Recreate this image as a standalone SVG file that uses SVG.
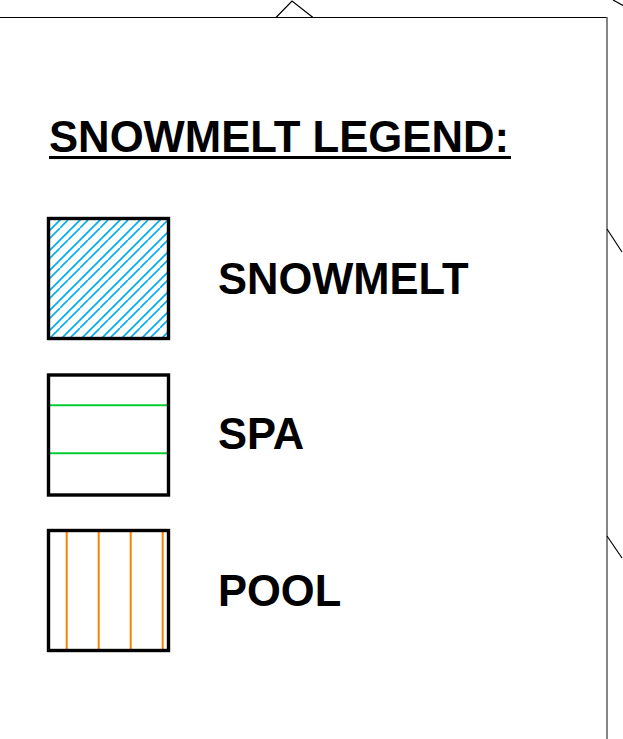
<svg xmlns="http://www.w3.org/2000/svg" width="623" height="739" viewBox="0 0 623 739">
<style>
.t{font-family:"Liberation Sans",Arial,sans-serif;font-weight:bold;fill:#000}
.box{fill:none;stroke:#000;stroke-width:3.4}
.thin{stroke:#000;stroke-width:1.2;fill:none}
.g{stroke:#00cc33;stroke-width:2}
.o{stroke:#ff7f00;stroke-width:2}
</style>
<defs>
<pattern id="hatch" patternUnits="userSpaceOnUse" x="0" y="0" width="20" height="20">
<g stroke="#00aeef" stroke-width="1.7" fill="none">
<path d="M0,20 L20,0 M-2,2 L2,-2 M18,22 L22,18 M0,8 L8,0 M8,20 L20,8"/>
</g>
</pattern>
</defs>
<rect width="623" height="739" fill="#fff"/>
<g id="frame">
<path class="thin" d="M0,17.5 H607"/>
<path d="M607,17 V739" stroke="#666" stroke-width="1.6" fill="none"/>
<path class="thin" d="M276,17.5 L292,1 L313,17.5"/>
<path class="thin" d="M613,0 L623,5.5"/>
<path class="thin" d="M607,229 L622,252"/>
<path class="thin" d="M607,536 L622,558"/>
</g>
<g id="title">
<text class="t" x="49" y="152" font-size="44" textLength="460" lengthAdjust="spacingAndGlyphs">SNOWMELT LEGEND:</text>
<rect x="49" y="156" width="462" height="3" fill="#000"/>
</g>
<g id="snowmelt">
<rect x="48.5" y="218.5" width="120" height="120" fill="url(#hatch)"/>
<rect class="box" x="48.5" y="218.5" width="120" height="120"/>
<text class="t" x="218" y="294" font-size="43.5">SNOWMELT</text>
</g>
<g id="spa">
<line class="g" x1="48.5" y1="405.3" x2="168.5" y2="405.3"/>
<line class="g" x1="48.5" y1="453.3" x2="168.5" y2="453.3"/>
<rect class="box" x="48.5" y="375" width="120" height="120"/>
<text class="t" x="218" y="449" font-size="43.5">SPA</text>
</g>
<g id="pool">
<line class="o" x1="66.7" y1="530.5" x2="66.7" y2="650.5"/>
<line class="o" x1="98.7" y1="530.5" x2="98.7" y2="650.5"/>
<line class="o" x1="130.7" y1="530.5" x2="130.7" y2="650.5"/>
<line class="o" x1="162.7" y1="530.5" x2="162.7" y2="650.5"/>
<rect class="box" x="48.5" y="530.5" width="120" height="120"/>
<text class="t" x="218" y="606" font-size="43.5">POOL</text>
</g>
</svg>
